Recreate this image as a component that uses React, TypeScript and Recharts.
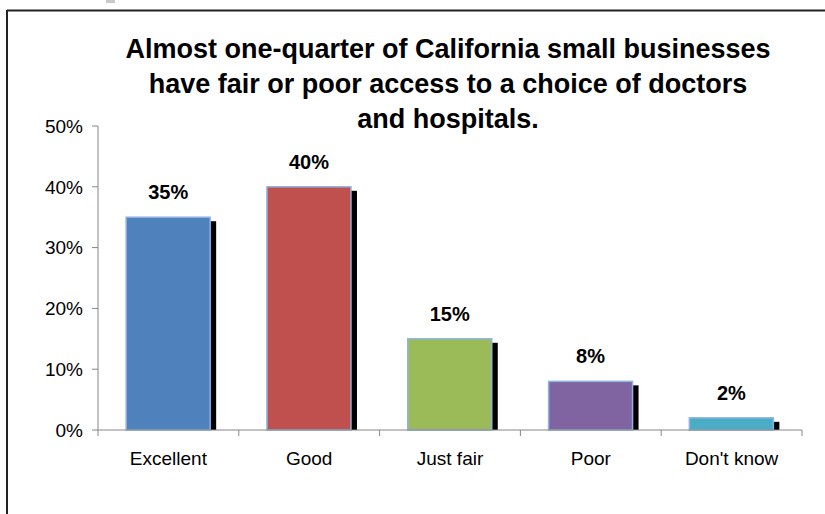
import React from "react";
import { BarChart, Bar, XAxis, YAxis, Cell, LabelList } from "recharts";

const categories = ["Excellent", "Good", "Just fair", "Poor", "Don't know"];
const values = [35, 40, 15, 8, 2];
const barColors = ["#4F81BD", "#C0504D", "#9BBB59", "#8064A2", "#4BACC6"];
const yTicks = [0, 10, 20, 30, 40, 50];
const titleLines = [
  "Almost one-quarter of California small businesses",
  "have fair or poor access to a choice of doctors",
  "and hospitals.",
];

const data = categories.map((c, i) => ({ name: c, value: values[i] }));

const W = 825;
const H = 514;
const PLOT_LEFT = 98;
const PLOT_RIGHT = 802;
const PLOT_TOP = 126;
const PLOT_BOTTOM = 430;
const BAND = (PLOT_RIGHT - PLOT_LEFT) / categories.length;
const FONT = "'Liberation Sans', Arial, sans-serif";
const AXIS = "#868686";

const ShadowBar = (props: any) => {
  const { x, y, width, height, fill } = props;
  if (!height || height <= 0) return null;
  return (
    <g>
      <rect x={x + 6} y={y + 4} width={width} height={Math.max(0, height - 4)} fill="#000" />
      <rect x={x} y={y} width={width} height={height} fill={fill} stroke="#8DB4E2" strokeWidth={1.5} />
    </g>
  );
};

const XTick = (props: any) => {
  const { x, y, payload, index } = props;
  const idx = payload && payload.index !== undefined ? payload.index : index;
  const isLast = idx === categories.length - 1;
  return (
    <g>
      <line x1={x - BAND / 2} y1={y} x2={x - BAND / 2} y2={y + 6} stroke={AXIS} strokeWidth={1} />
      {isLast && (
        <line x1={x + BAND / 2} y1={y} x2={x + BAND / 2} y2={y + 6} stroke={AXIS} strokeWidth={1} />
      )}
      <text x={x} y={y + 35} textAnchor="middle" fontFamily={FONT} fontSize={19} fill="#000">
        {payload.value}
      </text>
    </g>
  );
};

const ValueLabel = (props: any) => {
  const { x, y, width, value } = props;
  return (
    <text
      x={x + width / 2}
      y={y - 18}
      textAnchor="middle"
      fontFamily={FONT}
      fontWeight="bold"
      fontSize={20}
      fill="#000"
    >
      {`${value}%`}
    </text>
  );
};

export default function App() {
  return (
    <div
      style={{
        position: "absolute",
        left: 0,
        top: 0,
        width: W,
        height: H,
        background: "#fff",
        overflow: "hidden",
      }}
    >
      <div style={{ position: "absolute", left: 0, top: 0 }}>
        <BarChart
          width={W}
          height={H}
          data={data}
          margin={{ top: PLOT_TOP, right: W - PLOT_RIGHT, left: PLOT_LEFT - 60, bottom: H - PLOT_BOTTOM - 40 }}
          barCategoryGap="20%"
        >
          <XAxis
            dataKey="name"
            height={40}
            tickLine={false}
            tickSize={0}
            tickMargin={0}
            axisLine={{ stroke: AXIS, strokeWidth: 1 }}
            tick={<XTick />}
            interval={0}
          />
          <YAxis
            width={60}
            domain={[0, 50]}
            ticks={yTicks}
            tickFormatter={(v: number) => `${v}%`}
            tickSize={6}
            tickMargin={9}
            axisLine={{ stroke: AXIS, strokeWidth: 1 }}
            tickLine={{ stroke: AXIS, strokeWidth: 1 }}
            tick={{ fontFamily: FONT, fontSize: 19, fill: "#000" }}
            interval={0}
          />
          <Bar dataKey="value" shape={<ShadowBar />} isAnimationActive={false}>
            {data.map((d, i) => (
              <Cell key={d.name} fill={barColors[i]} />
            ))}
            <LabelList dataKey="value" content={<ValueLabel />} />
          </Bar>
        </BarChart>
      </div>
      <svg
        width={W}
        height={H}
        style={{ position: "absolute", left: 0, top: 0, pointerEvents: "none" }}
      >
        <line x1={7} y1={10.5} x2={W} y2={10.5} stroke="#222" strokeWidth={2} />
        <line x1={7} y1={10} x2={7} y2={H} stroke="#222" strokeWidth={2} />
        <rect x={106} y={0} width={9} height={3} fill="#c8c8c8" />
        {titleLines.map((t, i) => (
          <text
            key={i}
            x={448}
            y={57.5 + i * 35}
            textAnchor="middle"
            fontFamily={FONT}
            fontWeight="bold"
            fontSize={27}
            fill="#000"
          >
            {t}
          </text>
        ))}
      </svg>
    </div>
  );
}
